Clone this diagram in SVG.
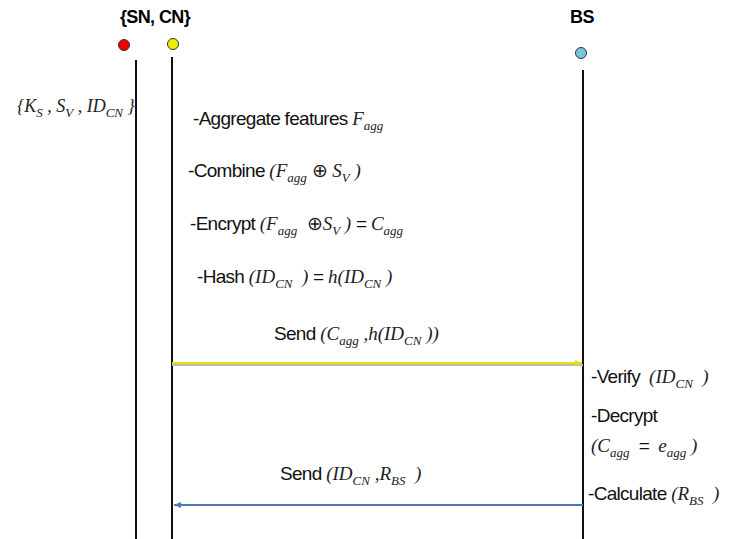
<svg xmlns="http://www.w3.org/2000/svg" width="735" height="539" viewBox="0 0 735 539" xml:space="preserve">
<style>
text{white-space:pre}
.t{font-family:"Liberation Sans",Arial,sans-serif;font-size:19px;letter-spacing:-0.7px;fill:#111}
.m{font-family:"Liberation Serif","Times New Roman",serif;font-style:italic;font-size:19px;letter-spacing:0;fill:#222}
.s{font-size:13px}
.n{font-style:normal}
.h{font-family:"Liberation Sans",Arial,sans-serif;font-weight:bold;font-size:18px;letter-spacing:-0.6px;fill:#000}
.life{stroke:#111;stroke-width:2;fill:none}
</style>
<defs>
<marker id="ay" markerWidth="8" markerHeight="8" refX="7" refY="4" orient="auto" markerUnits="userSpaceOnUse"><path d="M0,1 L7,4 L0,7 z" fill="#e8e000"/></marker>
<marker id="ab" markerWidth="8" markerHeight="8" refX="7" refY="4" orient="auto" markerUnits="userSpaceOnUse"><path d="M0,1 L7,4 L0,7 z" fill="#4a7ab8"/></marker>
</defs>
<rect width="735" height="539" fill="#fff"/>
<g id="SN">
<text class="h" x="155" y="23" text-anchor="middle">{SN, CN}</text>
<circle cx="124" cy="45" r="5.5" fill="#e00" stroke="#333" stroke-width="1"/>
<line class="life" x1="136" y1="60" x2="136" y2="539"/>
</g>
<g id="CN">
<circle cx="173" cy="44" r="5.5" fill="#ee0" stroke="#333" stroke-width="1"/>
<line class="life" x1="172" y1="57" x2="172" y2="539"/>
</g>
<g id="BS">
<text class="h" x="582" y="23" text-anchor="middle">BS</text>
<circle cx="581" cy="53" r="5.5" fill="#7cc6d8" stroke="#333" stroke-width="1"/>
<line class="life" x1="583" y1="70" x2="583" y2="539"/>
</g>
<g id="connectors">
<line x1="172" y1="365" x2="583" y2="365" stroke="#bbb" stroke-width="2"/>
<line x1="172" y1="363" x2="582" y2="363" stroke="#e8e000" stroke-width="2" marker-end="url(#ay)"/>
<line x1="583" y1="505" x2="174" y2="505" stroke="#4a7ab8" stroke-width="2" marker-end="url(#ab)"/>
</g>
<g id="labels">
<text class="m" x="17" y="112" style="font-size:18px">{K<tspan class="s" dy="5">S</tspan><tspan dy="-5"> , S</tspan><tspan class="s" dy="5">V</tspan><tspan dy="-5"> , ID</tspan><tspan class="s" dy="5">CN</tspan><tspan dy="-5"> }</tspan></text>
<text class="t" x="193" y="125">-Aggregate features <tspan class="m">F</tspan><tspan class="m s" dy="5">agg</tspan></text>
<text class="t" x="188" y="177">-Combine <tspan class="m">(F</tspan><tspan class="m s" dy="5">agg</tspan><tspan class="m n" dy="-5"> ⊕ </tspan><tspan class="m">S</tspan><tspan class="m s" dy="5">V</tspan><tspan class="m" dy="-5"> )</tspan></text>
<text class="t" x="190" y="230">-Encrypt <tspan class="m">(F</tspan><tspan class="m s" dy="5">agg</tspan><tspan class="m n" dy="-5">  ⊕</tspan><tspan class="m">S</tspan><tspan class="m s" dy="5">V</tspan><tspan class="m" dy="-5"> ) </tspan>= <tspan class="m">C</tspan><tspan class="m s" dy="5">agg</tspan></text>
<text class="t" x="197" y="283">-Hash <tspan class="m">(ID</tspan><tspan class="m s" dy="5">CN</tspan><tspan class="m" dy="-5">  ) </tspan>= <tspan class="m">h(ID</tspan><tspan class="m s" dy="5">CN</tspan><tspan class="m" dy="-5"> )</tspan></text>
<text class="t" x="274" y="340">Send <tspan class="m">(C</tspan><tspan class="m s" dy="5">agg</tspan><tspan class="m" dy="-5"> ,h(ID</tspan><tspan class="m s" dy="5">CN</tspan><tspan class="m" dy="-5"> ))</tspan></text>
<text class="t" x="591" y="383">-Verify  <tspan class="m">(ID</tspan><tspan class="m s" dy="5">CN</tspan><tspan class="m" dy="-5">  )</tspan></text>
<text class="t" x="591" y="422">-Decrypt</text>
<text class="t" x="591" y="452"><tspan class="m">(C</tspan><tspan class="m s" dy="5">agg</tspan><tspan dy="-5">  =  </tspan><tspan class="m">e</tspan><tspan class="m s" dy="5">agg</tspan><tspan class="m" dy="-5"> )</tspan></text>
<text class="t" x="588" y="500">-Calculate <tspan class="m">(R</tspan><tspan class="m s" dy="5">BS</tspan><tspan class="m" dy="-5">  )</tspan></text>
<text class="t" x="280" y="480">Send <tspan class="m">(ID</tspan><tspan class="m s" dy="5">CN</tspan><tspan class="m" dy="-5"> ,R</tspan><tspan class="m s" dy="5">BS</tspan><tspan class="m" dy="-5">  )</tspan></text>
</g>
</svg>
